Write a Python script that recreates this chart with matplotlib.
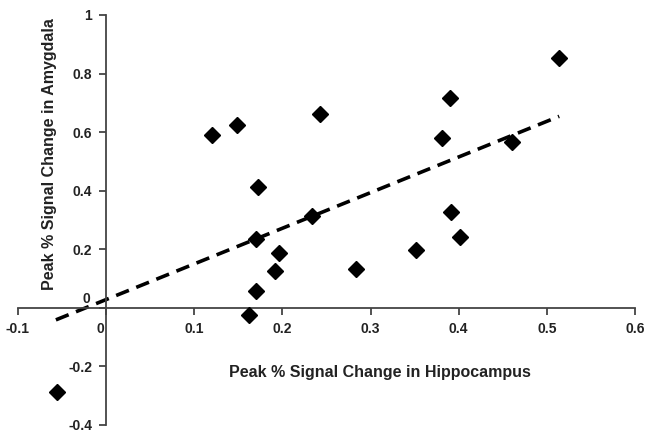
import matplotlib
matplotlib.use("Agg")
from matplotlib import pyplot as plt
from matplotlib.transforms import ScaledTranslation

# hippocampus (x) vs amygdala (y) peak % signal change
hippo = [0.120, 0.148, 0.172, -0.056, 0.243, 0.170, 0.196, 0.192, 0.170, 0.162,
         0.234, 0.283, 0.352, 0.402, 0.391, 0.381, 0.390, 0.461, 0.514]
amyg = [0.589, 0.623, 0.411, -0.288, 0.661, 0.236, 0.188, 0.127, 0.058, -0.024,
        0.312, 0.134, 0.199, 0.243, 0.329, 0.579, 0.716, 0.565, 0.853]

# regression line ends
fit_x = [-0.057, 0.514]
fit_y = [-0.041, 0.654]

xticks = [-0.1, 0, 0.1, 0.2, 0.3, 0.4, 0.5, 0.6]
xlabels = ["-0.1", "0", "0.1", "0.2", "0.3", "0.4", "0.5", "0.6"]
yticks = [-0.4, -0.2, 0, 0.2, 0.4, 0.6, 0.8, 1]
ylabels = ["-0.4", "-0.2", "0", "0.2", "0.4", "0.6", "0.8", "1"]

plt.rcParams["font.family"] = ["Liberation Sans", "DejaVu Sans"]
plt.rcParams["font.weight"] = "bold"

W, H = 645, 432
fig = plt.figure(figsize=(W / 100, H / 100), dpi=100)
ax = fig.add_axes([18 / W, 1 - 425 / H, (635 - 18) / W, (425 - 15) / H])

ax.plot(fit_x, fit_y, color="black", lw=2.6, dashes=(3.8, 2.2), zorder=2)
ax.plot(hippo, amyg, "D", color="black", ms=8, zorder=3)

ax.set_xlim(-0.1, 0.6)
ax.set_ylim(-0.4, 1)
for s in ["top", "right"]:
    ax.spines[s].set_visible(False)
ax.spines["left"].set_position(("data", 0))
ax.spines["bottom"].set_position(("data", 0))
for s in ["left", "bottom"]:
    ax.spines[s].set_color("#444444")
    ax.spines[s].set_linewidth(1.3)

ax.set_xticks(xticks)
ax.set_xticklabels(xlabels)
ax.set_yticks(yticks)
ax.set_yticklabels(ylabels)
ax.tick_params(direction="out", length=5, width=1.3, color="#444444",
               labelsize=10, labelcolor="#222222", pad=5)
for lab in ax.get_xticklabels() + ax.get_yticklabels():
    lab.set_fontweight("bold")

# the two "0" labels sit off the crossing point
xl0 = ax.get_xticklabels()[1]
xl0.set_transform(xl0.get_transform() + ScaledTranslation(-0.06, 0, fig.dpi_scale_trans))
yl0 = ax.get_yticklabels()[2]
yl0.set_transform(yl0.get_transform() + ScaledTranslation(-0.02, 0.1, fig.dpi_scale_trans))

fig.text(380 / W, 1 - 372 / H, "Peak % Signal Change in Hippocampus",
         ha="center", va="center", fontsize=11.5, fontweight="bold", color="#222222")
fig.text(50 / W, 1 - 154 / H, "Peak % Signal Change in Amygdala", rotation=90,
         ha="center", va="center", fontsize=11.5, fontweight="bold", color="#222222")

fig.savefig("out.png", dpi=100)
